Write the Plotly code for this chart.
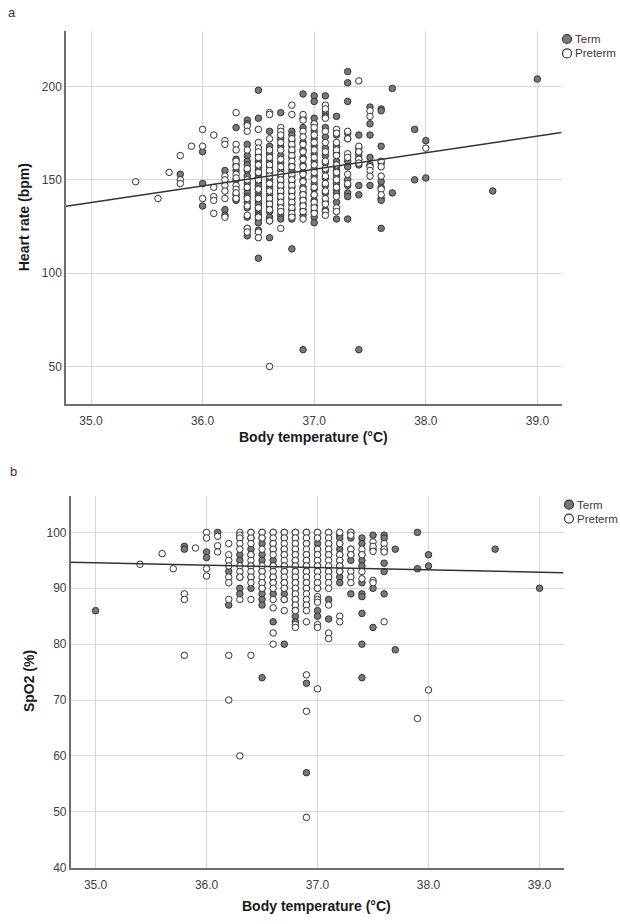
import plotly.graph_objects as go

# ---------------- data ----------------
TEMP_TICKS = [35.0, 36.0, 37.0, 38.0, 39.0]
HR_TICKS = [50, 100, 150, 200]
SPO2_TICKS = [40, 50, 60, 70, 80, 90, 100]
GROUP_NAMES = ["Term", "Preterm"]

# Heart rate, term infants: (temperature, [heart rates])
HR_TERM = [
    (35.8, [153]),
    (36.0, [165, 148, 136]),
    (36.2, [155, 134, 131]),
    (36.3, [178, 161, 158, 155, 150, 142, 140, 139]),
    (36.4, [182, 180, 169, 163, 160, 158, 155, 152, 148, 145, 143, 141, 138, 135, 130, 124, 120]),
    (36.5, [198, 183, 163, 160, 157, 155, 153, 151, 149, 147, 145, 143, 141, 139, 137, 135, 133, 131, 129, 127, 123, 108]),
    (36.6, [176, 168, 164, 160, 157, 154, 150, 146, 142, 138, 136, 133, 130, 128, 119]),
    (36.7, [186, 172, 168, 163, 159, 155, 152, 149, 146, 143, 140, 137, 134, 131, 129]),
    (36.8, [176, 174, 171, 168, 165, 162, 158, 155, 152, 149, 146, 143, 140, 137, 134, 131, 129, 113]),
    (36.9, [196, 183, 178, 170, 166, 162, 158, 154, 150, 146, 143, 140, 137, 134, 131, 59]),
    (37.0, [195, 192, 183, 180, 176, 172, 168, 164, 160, 156, 152, 148, 145, 142, 139, 136, 133, 130, 127]),
    (37.1, [195, 186, 184, 178, 173, 167, 163, 159, 155, 151, 147, 143, 138, 134]),
    (37.2, [184, 174, 168, 164, 160, 157, 155, 152, 148, 145, 143, 138, 129]),
    (37.3, [208, 202, 192, 175, 172, 160, 157, 150, 147, 143, 141, 129]),
    (37.4, [174, 167, 165, 163, 161, 158, 147, 142, 59]),
    (37.5, [189, 180, 174, 162, 158, 147]),
    (37.6, [188, 187, 168, 159, 149, 146, 140, 139, 124]),
    (37.7, [199, 143]),
    (37.9, [177, 150]),
    (38.0, [171, 151]),
    (38.6, [144]),
    (39.0, [204]),
]

# Heart rate, preterm infants
HR_PRETERM = [
    (35.4, [149]),
    (35.6, [140]),
    (35.7, [154]),
    (35.8, [163, 150, 148]),
    (35.9, [168]),
    (36.0, [177, 168, 140]),
    (36.1, [174, 146, 141, 139, 132]),
    (36.2, [171, 169, 152, 150, 147, 144, 140, 130]),
    (36.3, [186, 169, 166, 160, 157, 153, 151, 147, 145, 143, 140]),
    (36.4, [179, 176, 166, 156, 150, 146, 140, 136, 131, 124, 122]),
    (36.5, [177, 170, 167, 165, 162, 158, 154, 150, 145, 140, 135, 130, 122, 119]),
    (36.6, [186, 185, 172, 166, 162, 158, 155, 152, 148, 144, 140, 137, 134, 128, 50]),
    (36.7, [178, 176, 174, 170, 166, 161, 157, 153, 150, 147, 144, 141, 138, 135, 133, 124]),
    (36.8, [190, 185, 172, 169, 166, 163, 160, 157, 153, 150, 147, 144, 141, 138, 135, 132, 130]),
    (36.9, [185, 182, 176, 173, 169, 165, 161, 157, 153, 149, 145, 142, 139, 136, 133, 129]),
    (37.0, [180, 178, 174, 170, 166, 162, 158, 154, 150, 146, 142, 138, 135, 132]),
    (37.1, [190, 188, 183, 176, 170, 165, 160, 156, 152, 148, 144, 140, 137, 133, 131]),
    (37.2, [177, 175, 170, 166, 163, 158, 154, 150, 146, 141, 135, 133]),
    (37.3, [176, 172, 164, 162, 153, 148]),
    (37.4, [203, 168, 165, 161, 159]),
    (37.5, [187, 184, 157, 155, 152]),
    (37.6, [160, 157, 152, 145, 142]),
    (38.0, [167]),
]

# SpO2, term infants
SPO2_TERM = [
    (35.0, [86]),
    (35.8, [97.5, 97]),
    (36.0, [96.5, 95.5]),
    (36.1, [100]),
    (36.2, [93, 87]),
    (36.3, [99, 96, 95, 92, 90, 89]),
    (36.4, [100, 99, 97, 96, 94, 92, 90]),
    (36.5, [100, 99, 98, 96, 95, 93, 91, 90, 89, 88, 87, 74]),
    (36.6, [100, 98, 97, 95, 94, 92, 91, 89, 84]),
    (36.7, [100, 99, 97, 96, 94, 93, 91, 90, 89, 88, 80]),
    (36.8, [100, 99, 98, 97, 96, 95, 94, 93, 92, 91, 90, 89, 88, 87, 86, 85, 84]),
    (36.9, [100, 98, 96, 95, 94, 93, 92, 91, 90, 87, 73, 57]),
    (37.0, [100, 99, 98, 97, 96, 95, 94, 93, 91, 90, 86, 85]),
    (37.1, [100, 98, 97, 96, 93, 92, 88, 84.5]),
    (37.2, [99.5, 99, 98, 97, 96, 95, 94, 93, 92, 91]),
    (37.3, [100, 99, 97, 96, 95, 89]),
    (37.4, [99, 98, 96, 95, 94, 91, 89, 88.5, 85.5, 80, 74]),
    (37.5, [99.5, 97, 90, 83]),
    (37.6, [99.5, 99, 97, 94.5, 93, 89]),
    (37.7, [97, 79]),
    (37.9, [100, 93.5]),
    (38.0, [96, 94]),
    (38.6, [97]),
    (39.0, [90]),
]

# SpO2, preterm infants
SPO2_PRETERM = [
    (35.4, [94.3]),
    (35.6, [96.2]),
    (35.7, [93.5]),
    (35.8, [89, 88, 78]),
    (35.9, [97.2]),
    (36.0, [100, 99, 93.5, 92.2]),
    (36.1, [99.3, 97.6, 96.5]),
    (36.2, [98, 96, 95, 94, 92, 91, 88, 78, 70]),
    (36.3, [100, 99.5, 99, 98, 97, 94, 93, 92, 88, 60]),
    (36.4, [100, 99, 98, 96, 95, 94, 93, 92, 91, 88, 78]),
    (36.5, [100, 99, 97, 94, 93, 92, 91, 90]),
    (36.6, [100, 99, 98, 97, 96, 94, 93, 92, 91, 90, 88, 86.5, 82, 80]),
    (36.7, [100, 99, 98, 97, 96, 95, 94, 93, 92, 91, 90, 88, 86]),
    (36.8, [100, 99, 98, 97, 96, 95, 94, 93, 92, 91, 90, 89, 88, 87, 86, 83.5, 83]),
    (36.9, [100, 99, 98, 97, 96, 95, 94, 93, 92, 91, 90, 89, 88, 87, 86, 84, 74.5, 68, 49]),
    (37.0, [100, 99, 97, 96, 95, 94, 93, 92, 91, 90, 88.5, 88, 87.5, 83.5, 83, 72]),
    (37.1, [100, 99, 98, 97, 96, 95, 94, 93, 92, 91, 90, 87, 82, 81]),
    (37.2, [100, 98, 96, 95, 94, 93, 85, 84]),
    (37.3, [100, 99.5, 97, 96, 93, 92, 91]),
    (37.4, [97, 96, 93, 91.7]),
    (37.5, [98.3, 97.5, 96.6, 91.4, 91]),
    (37.6, [98, 97, 96.5, 84]),
    (37.9, [66.7]),
    (38.0, [71.8]),
]

# Total-sample linear fit lines: value at 37.0 degC and slope per degC
HR_FIT_AT37, HR_FIT_SLOPE = 155.6, 8.9
SPO2_FIT_AT37, SPO2_FIT_SLOPE = 93.72, -0.426

# ---------------- helpers ----------------
def flatten(groups):
    xs, ys = [], []
    for t, vals in groups:
        for v in vals:
            xs.append(t)
            ys.append(v)
    return xs, ys

W, H = 620, 924
TEMP_RANGE = [34.776, 39.216]
HR_RANGE = [30.1, 229.5]
SPO2_RANGE = [40, 106.6]

TICK_FONT = dict(family="Liberation Sans, Arial", size=12, color="#404040")
TITLE_FONT = dict(family="Liberation Sans, Arial", size=14, color="#1a1a1a")
LEG_FONT = dict(family="Liberation Sans, Arial", size=11.5, color="#3a3a3a")
TERM_FILL = "#7d7777"
EDGE = "#333333"

fig = go.Figure()

def add_panel(term, pre, xa, ya, legs, fit_at37, fit_slope):
    tx, ty = flatten(term)
    px, py = flatten(pre)
    fig.add_trace(go.Scatter(x=tx, y=ty, mode="markers", xaxis=xa, yaxis=ya, showlegend=False,
                             name=GROUP_NAMES[0],
                             marker=dict(size=6.5, color=TERM_FILL, line=dict(color=EDGE, width=1))))
    fig.add_trace(go.Scatter(x=px, y=py, mode="markers", xaxis=xa, yaxis=ya, showlegend=False,
                             name=GROUP_NAMES[1],
                             marker=dict(size=6.5, color="white", line=dict(color=EDGE, width=1))))
    fx = TEMP_RANGE
    fy = [fit_at37 + fit_slope * (v - 37.0) for v in fx]
    fig.add_trace(go.Scatter(x=fx, y=fy, mode="lines", xaxis=xa, yaxis=ya, showlegend=False,
                             line=dict(color="#333333", width=1.5), hoverinfo="skip"))
    # legend symbols (labels are drawn as text next to them)
    for leg, fill in zip(legs, [TERM_FILL, "white"]):
        fig.add_trace(go.Scatter(x=[None], y=[None], mode="markers", name=" ", legend=leg,
                                 xaxis=xa, yaxis=ya,
                                 marker=dict(size=9, color=fill, line=dict(color=EDGE, width=1.2))))

add_panel(HR_TERM, HR_PRETERM, "x", "y", ["legend", "legend2"], HR_FIT_AT37, HR_FIT_SLOPE)
add_panel(SPO2_TERM, SPO2_PRETERM, "x2", "y2", ["legend3", "legend4"], SPO2_FIT_AT37, SPO2_FIT_SLOPE)

axis_common = dict(showgrid=True, gridcolor="#d6d6d6", gridwidth=1, zeroline=False,
                   showline=True, linecolor="#6e6e6e", linewidth=1.5, ticks="",
                   tickfont=TICK_FONT, fixedrange=True)

def px2paper_x(px):
    return px / W

def px2paper_y(py):
    return 1 - py / H

fig.update_layout(
    width=W, height=H, margin=dict(l=0, r=0, t=0, b=0),
    paper_bgcolor="white", plot_bgcolor="white",
    xaxis=dict(domain=[px2paper_x(66), px2paper_x(561.5)], range=TEMP_RANGE, tickvals=TEMP_TICKS,
               tickformat=".1f", anchor="y", ticklabelstandoff=5, **axis_common),
    yaxis=dict(domain=[px2paper_y(406.7), px2paper_y(31.7)], range=HR_RANGE, tickvals=HR_TICKS,
               anchor="x", **axis_common),
    xaxis2=dict(domain=[px2paper_x(70.7), px2paper_x(563.5)], range=TEMP_RANGE, tickvals=TEMP_TICKS,
                tickformat=".1f", anchor="y2", ticklabelstandoff=5, **axis_common),
    yaxis2=dict(domain=[px2paper_y(874.3), px2paper_y(499.3)], range=SPO2_RANGE, tickvals=SPO2_TICKS,
                anchor="x2", **axis_common),
    showlegend=True,
)

# legend rows: (legend id, label, circle centre x px, row centre y px)
LEG_ROWS = [("legend", GROUP_NAMES[0], 567, 39.3), ("legend2", GROUP_NAMES[1], 567, 53.8),
            ("legend3", GROUP_NAMES[0], 569, 508.5), ("legend4", GROUP_NAMES[1], 569, 522.5)]
for name, label, cx, ypx in LEG_ROWS:
    fig.update_layout(**{name: dict(x=px2paper_x(cx - 20), y=px2paper_y(ypx), xanchor="left", yanchor="middle",
                                    bgcolor="rgba(0,0,0,0)", borderwidth=0, font=LEG_FONT,
                                    itemclick=False, itemdoubleclick=False)})
    fig.add_annotation(xref="paper", yref="paper", x=px2paper_x(cx + 5.5), y=px2paper_y(ypx),
                       xanchor="left", yanchor="middle", showarrow=False, text=label, font=LEG_FONT)

ann = [
    dict(text="a", x=px2paper_x(12), y=px2paper_y(12.7)),
    dict(text="b", x=px2paper_x(13.8), y=px2paper_y(475)),
]
for a in ann:
    fig.add_annotation(xref="paper", yref="paper", xanchor="center", yanchor="middle", showarrow=False,
                       font=dict(family="Liberation Sans, Arial", size=13, color="#333333"), **a)

titles = [
    dict(text="<b>Heart rate (bpm)</b>", x=px2paper_x(23.7), y=px2paper_y(219.2), textangle=-90),
    dict(text="<b>Body temperature (°C)</b>", x=px2paper_x(313), y=px2paper_y(440), textangle=0),
    dict(text="<b>SpO2 (%)</b>", x=px2paper_x(28.5), y=px2paper_y(686.8), textangle=-90),
    dict(text="<b>Body temperature (°C)</b>", x=px2paper_x(316.7), y=px2paper_y(913.3), textangle=0),
]
for t in titles:
    fig.add_annotation(xref="paper", yref="paper", xanchor="center", yanchor="middle", showarrow=False,
                       font=TITLE_FONT, **t)

fig.write_html("out.html")
